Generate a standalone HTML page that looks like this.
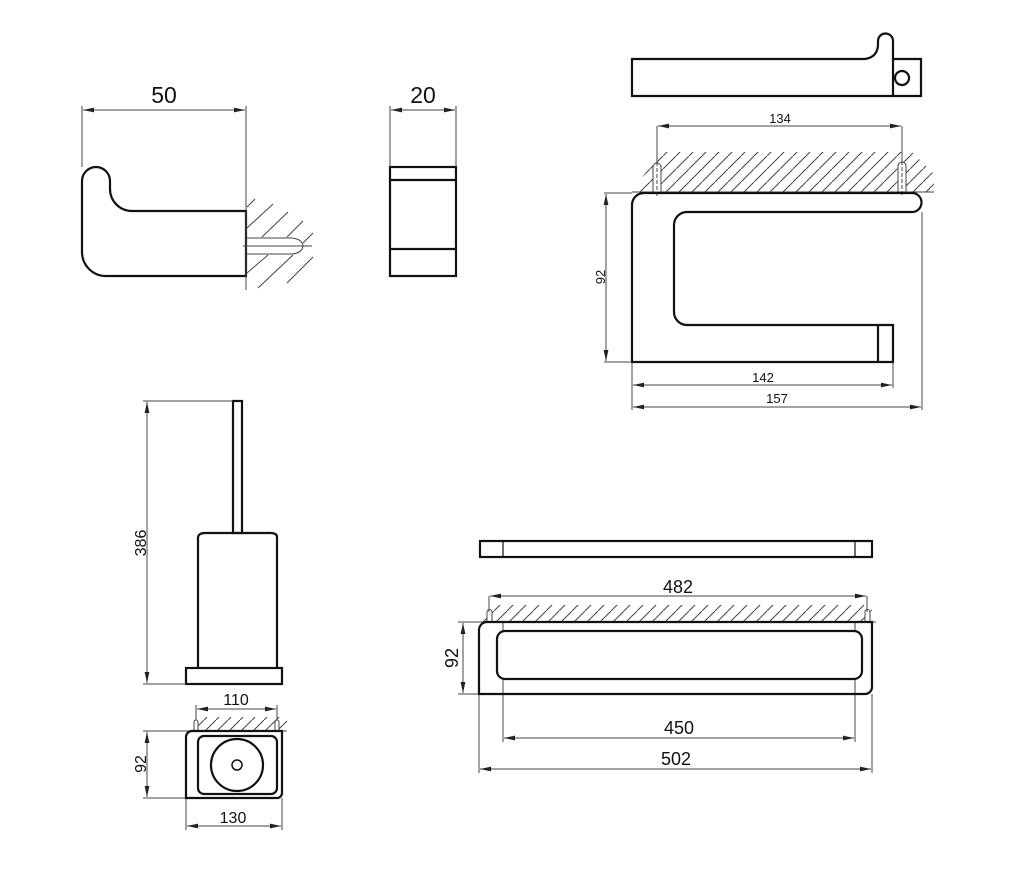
<!DOCTYPE html>
<html><head><meta charset="utf-8"><style>
html,body{margin:0;padding:0;background:#fff;}
svg{display:block;}
text{font-family:"Liberation Sans",Arial,sans-serif;fill:#111;}
</style></head><body>
<svg width="1024" height="873" viewBox="0 0 1024 873" xmlns="http://www.w3.org/2000/svg">
<defs>
<marker id="ar" markerUnits="userSpaceOnUse" markerWidth="12" markerHeight="8" refX="11" refY="3" orient="auto-start-reverse" viewBox="0 0 12 6">
<path d="M0,0.6 L11,3 L0,5.4 Z" fill="#222"/>
</marker>
<pattern id="h" patternUnits="userSpaceOnUse" width="13" height="13">
<line x1="-1" y1="14" x2="14" y2="-1" stroke="#444" stroke-width="1"/>
</pattern>
<pattern id="h2" patternUnits="userSpaceOnUse" width="12" height="12">
<line x1="-1" y1="13" x2="13" y2="-1" stroke="#444" stroke-width="1"/>
</pattern>
</defs>

<g fill="none" stroke="#111" stroke-width="2.2">
<!-- Hook -->
<path d="M246,211 L132,211 A22,22 0 0 1 110,189 L110,181 A14,14 0 0 0 82,181 L82,252 A24,24 0 0 0 106,276 L246,276 Z"/>
<!-- 20 piece -->
<rect x="390" y="167" width="66" height="109"/>
<line x1="390" y1="180" x2="456" y2="180"/>
<line x1="390" y1="249" x2="456" y2="249"/>
</g>

<!-- hook hatch -->
<g fill="none" stroke="#444" stroke-width="1">
<line x1="247" y1="207" x2="255" y2="199"/>
<line x1="247" y1="228" x2="273" y2="204"/>
<line x1="262" y1="237" x2="288" y2="212"/>
<line x1="287" y1="237" x2="303" y2="221"/>
<line x1="303" y1="243" x2="313" y2="233"/>
<line x1="247" y1="273" x2="268" y2="255"/>
<line x1="258" y1="288" x2="293" y2="255"/>
<line x1="287" y1="283" x2="313" y2="257"/>
<path d="M246,238 L292,238 Q302,239 303,246 Q302,253 292,254 L246,254"/>
<line x1="243" y1="246" x2="312" y2="246"/>
</g>

<!-- hook dims -->
<g stroke="#444" stroke-width="1" fill="none">
<line x1="82" y1="106" x2="82" y2="167"/>
<line x1="246" y1="106" x2="246" y2="290"/>
<line x1="83" y1="110" x2="245" y2="110" marker-start="url(#ar)" marker-end="url(#ar)"/>
<line x1="390" y1="106" x2="390" y2="167"/>
<line x1="456" y1="106" x2="456" y2="167"/>
<line x1="391" y1="110" x2="455" y2="110" marker-start="url(#ar)" marker-end="url(#ar)"/>
</g>
<text x="164" y="103" font-size="23" text-anchor="middle">50</text>
<text x="423" y="103" font-size="23" text-anchor="middle">20</text>

<!-- Paper holder top view -->
<g fill="none" stroke="#111" stroke-width="2.2">
<path d="M632,59 L865,59 Q878,57 878,44 L878,41 A7.5,7.5 0 0 1 893,41 L893,59 L921,59 L921,96 L632,96 Z"/>
<line x1="893" y1="59" x2="893" y2="96"/>
<circle cx="902" cy="78" r="7"/>
</g>

<!-- paper holder hatch -->
<polygon points="632,192 660,152 912,152 934,174 934,192" fill="url(#h)"/>
<g stroke="#444" stroke-width="1" fill="#fff">
<path d="M653,192 L653,167 A4,4 0 0 1 661,167 L661,192"/>
<path d="M898,192 L898,166 A4,4 0 0 1 906,166 L906,192"/>
</g>
<g stroke="#444" stroke-width="1" fill="none">
<line x1="657" y1="126" x2="657" y2="162"/>
<line x1="657" y1="162" x2="657" y2="196" stroke-dasharray="4,2"/>
<line x1="902" y1="126" x2="902" y2="161"/>
<line x1="902" y1="161" x2="902" y2="196" stroke-dasharray="4,2"/>
<line x1="632" y1="192" x2="934" y2="192"/>
</g>

<g fill="none" stroke="#111" stroke-width="2.2">
<path d="M632,362 L632,205 A12,12 0 0 1 644,193 L912,193 A9.5,9.5 0 0 1 912,212 L687,212 A13,13 0 0 0 674,225 L674,312 A13,13 0 0 0 687,325 L893,325 L893,362 Z"/>
<line x1="878" y1="325" x2="878" y2="362"/>
</g>

<g stroke="#444" stroke-width="1" fill="none">
<line x1="658" y1="126" x2="901" y2="126" marker-start="url(#ar)" marker-end="url(#ar)"/>
<line x1="604" y1="193" x2="632" y2="193"/>
<line x1="604" y1="362" x2="632" y2="362"/>
<line x1="606" y1="194" x2="606" y2="361" marker-start="url(#ar)" marker-end="url(#ar)"/>
<line x1="632" y1="362" x2="632" y2="410"/>
<line x1="893" y1="362" x2="893" y2="388"/>
<line x1="922" y1="212" x2="922" y2="410"/>
<line x1="633" y1="385" x2="892" y2="385" marker-start="url(#ar)" marker-end="url(#ar)"/>
<line x1="633" y1="407" x2="921" y2="407" marker-start="url(#ar)" marker-end="url(#ar)"/>
</g>
<text x="780" y="123" font-size="13" text-anchor="middle">134</text>
<text x="763" y="382" font-size="13" text-anchor="middle">142</text>
<text x="777" y="403" font-size="13" text-anchor="middle">157</text>
<text x="0" y="0" font-size="13" text-anchor="middle" transform="translate(605,277) rotate(-90)">92</text>

<!-- Toilet brush side -->
<g fill="none" stroke="#111" stroke-width="2.2">
<rect x="233" y="401" width="9" height="132"/>
<path d="M198,668 L198,537 Q199,533 205,533 L270,533 Q277,533 277,537 L277,668"/>
<rect x="186" y="668" width="96" height="16"/>
</g>
<g stroke="#444" stroke-width="1" fill="none">
<line x1="143" y1="401" x2="233" y2="401"/>
<line x1="143" y1="684" x2="186" y2="684"/>
<line x1="147" y1="402" x2="147" y2="683" marker-start="url(#ar)" marker-end="url(#ar)"/>
</g>
<text x="0" y="0" font-size="16" text-anchor="middle" transform="translate(146,543) rotate(-90)">386</text>

<!-- brush bottom view -->
<polygon points="190,731 204,717 287,717 287,731" fill="url(#h2)"/>
<g stroke="#444" stroke-width="1" fill="#fff">
<path d="M194,731 L194,722 A2,2 0 0 1 198,722 L198,731"/>
<path d="M275,731 L275,722 A2,2 0 0 1 279,722 L279,731"/>
</g>
<g stroke="#444" stroke-width="1" fill="none">
<line x1="143" y1="731" x2="287" y2="731"/>
<line x1="196" y1="705" x2="196" y2="720"/>
<line x1="277" y1="705" x2="277" y2="720"/>
<line x1="197" y1="709" x2="276" y2="709" marker-start="url(#ar)" marker-end="url(#ar)"/>
<line x1="143" y1="798" x2="186" y2="798"/>
<line x1="147" y1="732" x2="147" y2="797" marker-start="url(#ar)" marker-end="url(#ar)"/>
<line x1="186" y1="798" x2="186" y2="830"/>
<line x1="282" y1="798" x2="282" y2="830"/>
<line x1="187" y1="826" x2="281" y2="826" marker-start="url(#ar)" marker-end="url(#ar)"/>
</g>
<g fill="none" stroke="#111" stroke-width="2.2">
<path d="M186,798 L186,737 A6,6 0 0 1 192,731 L282,731 L282,793 A5,5 0 0 1 277,798 Z"/>
<rect x="198" y="736" width="79" height="58" rx="6"/>
<circle cx="237" cy="765" r="26"/>
<circle cx="237" cy="765" r="5" stroke-width="1.5"/>
</g>
<text x="236" y="705" font-size="16" text-anchor="middle">110</text>
<text x="233" y="823" font-size="16" text-anchor="middle">130</text>
<text x="0" y="0" font-size="16" text-anchor="middle" transform="translate(146,764) rotate(-90)">92</text>

<!-- Towel bar top -->
<g fill="none" stroke="#111" stroke-width="2.2">
<rect x="480" y="541" width="392" height="16"/>
<line x1="503" y1="541" x2="503" y2="557" stroke-width="1.2"/>
<line x1="855" y1="541" x2="855" y2="557" stroke-width="1.2"/>
</g>

<!-- towel bar hatch -->
<polygon points="482,622 497,605 872,605 872,622" fill="url(#h)"/>
<g stroke="#444" stroke-width="1" fill="#fff">
<path d="M487,622 L487,612 A2.5,2.5 0 0 1 492,612 L492,622"/>
<path d="M865,622 L865,612 A2.5,2.5 0 0 1 870,612 L870,622"/>
</g>
<g stroke="#444" stroke-width="1" fill="none">
<line x1="476" y1="622" x2="876" y2="622"/>
<line x1="489" y1="596" x2="489" y2="612"/>
<line x1="867" y1="596" x2="867" y2="612"/>
<line x1="490" y1="596" x2="866" y2="596" marker-start="url(#ar)" marker-end="url(#ar)"/>
<line x1="458" y1="622" x2="480" y2="622"/>
<line x1="458" y1="694" x2="480" y2="694"/>
<line x1="463" y1="623" x2="463" y2="693" marker-start="url(#ar)" marker-end="url(#ar)"/>
<line x1="503" y1="622" x2="503" y2="631"/>
<line x1="855" y1="622" x2="855" y2="631"/>
<line x1="503" y1="679" x2="503" y2="742"/>
<line x1="855" y1="679" x2="855" y2="742"/>
<line x1="504" y1="738" x2="854" y2="738" marker-start="url(#ar)" marker-end="url(#ar)"/>
<line x1="479" y1="694" x2="479" y2="773"/>
<line x1="872" y1="694" x2="872" y2="773"/>
<line x1="480" y1="769" x2="871" y2="769" marker-start="url(#ar)" marker-end="url(#ar)"/>
</g>
<g fill="none" stroke="#111" stroke-width="2.2">
<path d="M479,694 L479,630 A8,8 0 0 1 487,622 L872,622 L872,687 A7,7 0 0 1 865,694 Z"/>
<rect x="497" y="631" width="365" height="48" rx="8"/>
</g>
<text x="678" y="593" font-size="18" text-anchor="middle">482</text>
<text x="679" y="734" font-size="18" text-anchor="middle">450</text>
<text x="676" y="765" font-size="18" text-anchor="middle">502</text>
<text x="0" y="0" font-size="18" text-anchor="middle" transform="translate(458,658) rotate(-90)">92</text>
</svg>
</body></html>
